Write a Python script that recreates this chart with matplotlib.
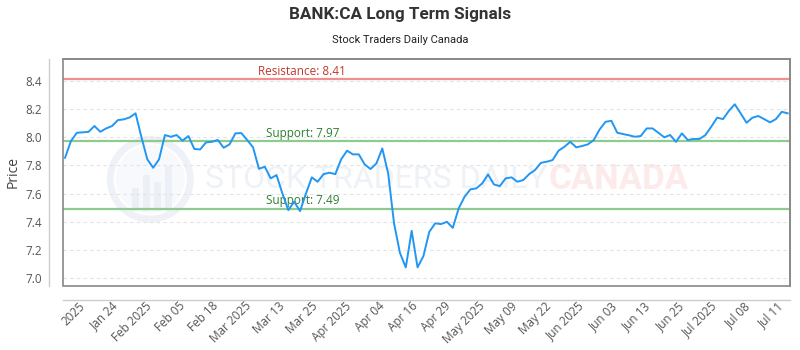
import numpy as np
import matplotlib
matplotlib.use("Agg")
from matplotlib import pyplot
from matplotlib.patches import Ellipse, Rectangle

# closing prices, one per trading session
prices = [
    7.854, 7.972, 8.031, 8.034, 8.038, 8.079, 8.038, 8.062, 8.079, 8.121,
    8.126, 8.140, 8.169, 8.000, 7.843, 7.783, 7.843, 8.015, 8.003, 8.015,
    7.975, 8.008, 7.916, 7.913, 7.963, 7.967, 7.980, 7.925, 7.949, 8.027,
    8.029, 7.980, 7.928, 7.776, 7.790, 7.708, 7.731, 7.600, 7.483, 7.542,
    7.476, 7.600, 7.715, 7.684, 7.738, 7.748, 7.738, 7.843, 7.904, 7.878,
    7.878, 7.807, 7.774, 7.814, 7.920, 7.743, 7.389, 7.180, 7.077, 7.336,
    7.077, 7.157, 7.329, 7.389, 7.384, 7.400, 7.357, 7.495, 7.577, 7.630,
    7.637, 7.672, 7.736, 7.665, 7.653, 7.708, 7.715, 7.684, 7.696, 7.738,
    7.767, 7.818, 7.826, 7.838, 7.904, 7.932, 7.967, 7.928, 7.937, 7.949,
    7.980, 8.055, 8.109, 8.116, 8.031, 8.022, 8.013, 8.003, 8.008, 8.062,
    8.062, 8.031, 7.999, 8.015, 7.967, 8.027, 7.980, 7.987, 7.987, 8.015,
    8.074, 8.138, 8.128, 8.187, 8.233, 8.169, 8.102, 8.138, 8.150, 8.128,
    8.105, 8.128, 8.180, 8.169,
]

tick_labels = [
    "2025", "Jan 24", "Feb 2025", "Feb 05", "Feb 18", "Mar 2025", "Mar 13",
    "Mar 25", "Apr 2025", "Apr 04", "Apr 16", "Apr 29", "May 2025", "May 09",
    "May 22", "Jun 2025", "Jun 03", "Jun 13", "Jun 25", "Jul 2025", "Jul 08",
    "Jul 11",
]

resistance = 8.41
supports = [7.97, 7.49]

y_ticks = [7.0, 7.2, 7.4, 7.6, 7.8, 8.0, 8.2, 8.4]

pyplot.rcParams['font.family'] = ['Open Sans', 'DejaVu Sans']

fig = pyplot.figure(figsize=(8, 3.5), dpi=100)
ax = fig.add_axes([63 / 800, 1 - 286 / 350, 727 / 800, 227 / 350])

# box around the plot area plus offset axis lines
# (spine positions first: moving a spine resets the ticks)
for side in ["top", "right"]:
    ax.spines[side].set_color("#888888")
    ax.spines[side].set_linewidth(1.2)
for side in ["left", "bottom"]:
    ax.spines[side].set_position(("outward", 10))
    ax.spines[side].set_color("#cccccc")
    ax.spines[side].set_linewidth(1.0)
ax.add_patch(Rectangle((0, 0), 1, 1, transform=ax.transAxes, fill=False,
                       ec="#888888", lw=1.2, clip_on=False, zorder=4))

x = np.arange(len(prices))

# watermark
ax.add_patch(Ellipse((0.12, 0.47), 0.11, 0.35, transform=ax.transAxes,
                     fill=False, ec="#eef1f7", lw=5, zorder=0))
ax.add_patch(Ellipse((0.12, 0.47), 0.095, 0.30, transform=ax.transAxes,
                     fc="#f7f9fc", ec="none", zorder=0))
for bx, bh in zip([0.095, 0.11, 0.125, 0.14], [0.10, 0.16, 0.13, 0.20]):
    ax.add_patch(Rectangle((bx, 0.33), 0.01, bh, transform=ax.transAxes,
                           fc="#eceff5", ec="none", zorder=0))
ax.text(0.195, 0.47, "STOCK TRADERS DAILY", transform=ax.transAxes,
        fontsize=23, color="#eef1f6", va="center", ha="left",
        family="Roboto", zorder=0)
ax.text(0.668, 0.47, "CANADA", transform=ax.transAxes, fontsize=25,
        color="#fdeaea", fontweight="bold", va="center", ha="left",
        family="Roboto", zorder=0)

ax.axhline(resistance, color="#ef8f8f", lw=1.6, zorder=2)
for s in supports:
    ax.axhline(s, color="#8fcb8f", lw=1.6, zorder=2)

ax.text(0.268, resistance + 0.012, "Resistance: %.2f" % resistance,
        transform=ax.get_yaxis_transform(), color="#c0392b", fontsize=8.5,
        va="bottom", ha="left")
for s in supports:
    ax.text(0.279, s + 0.012, "Support: %.2f" % s,
            transform=ax.get_yaxis_transform(), color="#2e7d32",
            fontsize=8.5, va="bottom", ha="left")

ax.plot(x, prices, color="#2196f3", lw=1.4, zorder=3)

ax.set_xlim(-0.35, len(prices) - 0.6)
ax.set_ylim(6.945, 8.554)

ax.tick_params(axis="both", length=0, labelsize=8.5, colors="#555555")
ax.tick_params(axis="x", pad=3)
ax.tick_params(axis="y", pad=5)

ax.set_yticks(y_ticks)
ax.set_yticklabels(["%.1f" % v for v in y_ticks])
ax.grid(axis="y", color="#e3e3e3", ls=(0, (3, 3)), lw=0.8)
ax.set_axisbelow(True)

tick_pos = np.linspace(3.1, 122.0, len(tick_labels))
ax.set_xticks(tick_pos)
ax.set_xticklabels(tick_labels)
for lbl in ax.get_xticklabels():
    lbl.set_rotation(45)
    lbl.set_ha("right")
    lbl.set_va("center")
    lbl.set_rotation_mode("anchor")

ax.set_ylabel("Price", fontsize=10, color="#444444")
ax.yaxis.set_label_coords(-0.058, 0.5)

fig.text(0.5, 1 - 15 / 350, "BANK:CA Long Term Signals", ha="center",
         va="center", fontsize=12.3, fontweight="bold", color="#333333",
         family="Roboto")
fig.text(0.5, 1 - 40 / 350, "Stock Traders Daily Canada", ha="center",
         va="center", fontsize=8, color="#222222", family="Roboto")

fig.savefig("out.png", dpi=100)
